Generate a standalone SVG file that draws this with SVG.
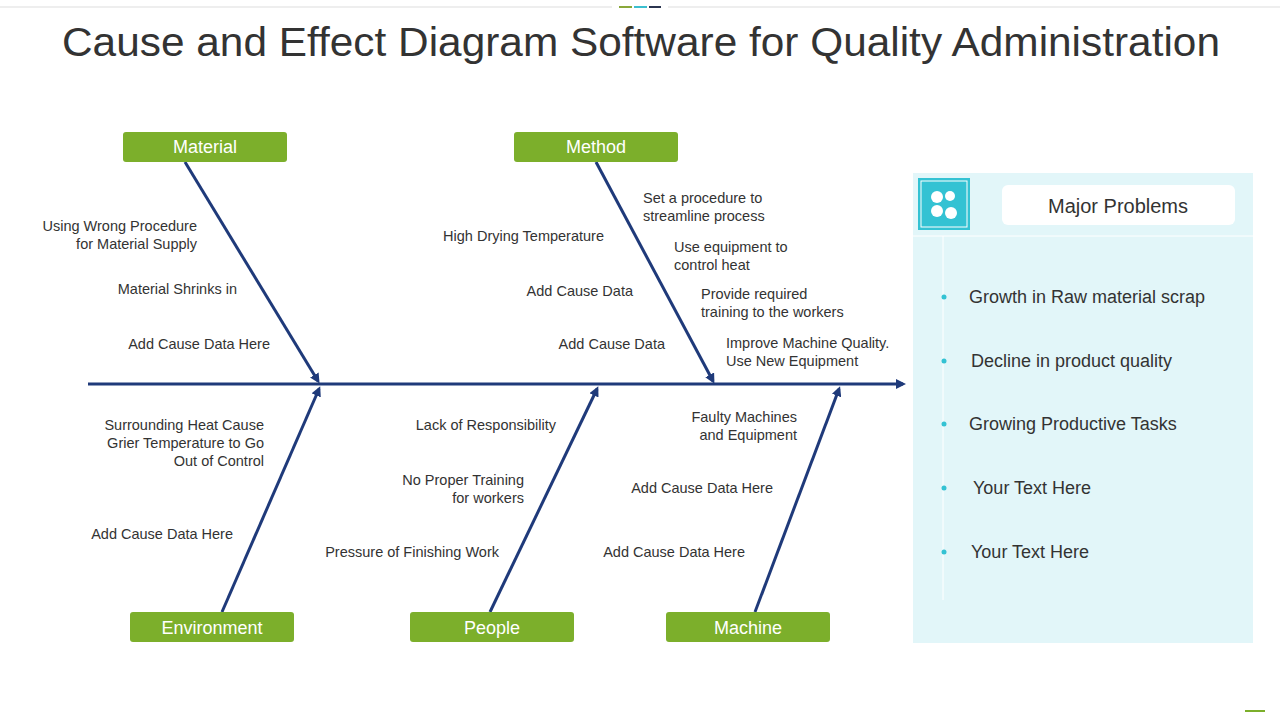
<svg xmlns="http://www.w3.org/2000/svg" width="1280" height="720" viewBox="0 0 1280 720">
<style>
text{font-family:"Liberation Sans",Arial,sans-serif;fill:#333}
.t{font-size:14.5px}
.lb{font-size:18px;fill:#fff}
.p{font-size:18px}
.box{fill:#7caf2b}
.bone{stroke:#1f3a7a;stroke-width:3;fill:none}
</style>
<defs><marker id="ah" markerWidth="10" markerHeight="10" refX="7" refY="5" orient="auto" markerUnits="userSpaceOnUse"><path d="M0,0 L10,5 L0,10 z" fill="#1f3a7a"/></marker></defs>
<rect width="1280" height="720" fill="#fff"/>
<line x1="0" y1="7" x2="1280" y2="7" stroke="#ddd"/>
<rect x="612" y="4" width="56" height="6" fill="#fff"/>
<line x1="619" y1="7" x2="632" y2="7" stroke="#8aa83a" stroke-width="2"/>
<line x1="634" y1="7" x2="647" y2="7" stroke="#3bbfcf" stroke-width="2"/>
<line x1="649" y1="7" x2="661" y2="7" stroke="#2b3550" stroke-width="2"/>
<line x1="1245" y1="711" x2="1265" y2="711" stroke="#7caf2b" stroke-width="2"/>
<text x="62" y="56" textLength="1158" lengthAdjust="spacingAndGlyphs" style="font-size:41px">Cause and Effect Diagram Software for Quality Administration</text>
<g id="connectors">
<line class="bone" x1="88" y1="384" x2="903" y2="384" marker-end="url(#ah)"/>
<line class="bone" x1="185" y1="162" x2="318" y2="381" marker-end="url(#ah)"/>
<line class="bone" x1="596" y1="162" x2="713" y2="381" marker-end="url(#ah)"/>
<line class="bone" x1="222" y1="612" x2="319" y2="389" marker-end="url(#ah)"/>
<line class="bone" x1="490" y1="612" x2="597" y2="389" marker-end="url(#ah)"/>
<line class="bone" x1="755" y1="612" x2="839" y2="389" marker-end="url(#ah)"/>
</g>
<g id="material"><rect class="box" x="123" y="132" width="164" height="30" rx="3"/><text class="lb" x="205" y="153" text-anchor="middle">Material</text></g>
<g id="method"><rect class="box" x="514" y="132" width="164" height="30" rx="3"/><text class="lb" x="596" y="153" text-anchor="middle">Method</text></g>
<g id="environment"><rect class="box" x="130" y="612" width="164" height="30" rx="3"/><text class="lb" x="212" y="634" text-anchor="middle">Environment</text></g>
<g id="people"><rect class="box" x="410" y="612" width="164" height="30" rx="3"/><text class="lb" x="492" y="634" text-anchor="middle">People</text></g>
<g id="machine"><rect class="box" x="666" y="612" width="164" height="30" rx="3"/><text class="lb" x="748" y="634" text-anchor="middle">Machine</text></g>
<g id="causes">
<text class="t" x="197" y="231" text-anchor="end">Using Wrong Procedure</text>
<text class="t" x="197" y="249" text-anchor="end">for Material Supply</text>
<text class="t" x="237" y="294" text-anchor="end">Material Shrinks in</text>
<text class="t" x="270" y="349" text-anchor="end">Add Cause Data Here</text>
<text class="t" x="604" y="241" text-anchor="end">High Drying Temperature</text>
<text class="t" x="633" y="296" text-anchor="end">Add Cause Data</text>
<text class="t" x="665" y="349" text-anchor="end">Add Cause Data</text>
<text class="t" x="643" y="203">Set a procedure to</text>
<text class="t" x="643" y="221">streamline process</text>
<text class="t" x="674" y="252">Use equipment to</text>
<text class="t" x="674" y="270">control heat</text>
<text class="t" x="701" y="299">Provide required</text>
<text class="t" x="701" y="317">training to the workers</text>
<text class="t" x="726" y="348">Improve Machine Quality.</text>
<text class="t" x="726" y="366">Use New Equipment</text>
<text class="t" x="264" y="430" text-anchor="end">Surrounding Heat Cause</text>
<text class="t" x="264" y="448" text-anchor="end">Grier Temperature to Go</text>
<text class="t" x="264" y="466" text-anchor="end">Out of Control</text>
<text class="t" x="233" y="539" text-anchor="end">Add Cause Data Here</text>
<text class="t" x="556" y="430" text-anchor="end">Lack of Responsibility</text>
<text class="t" x="524" y="485" text-anchor="end">No Proper Training</text>
<text class="t" x="524" y="503" text-anchor="end">for workers</text>
<text class="t" x="499" y="557" text-anchor="end">Pressure of Finishing Work</text>
<text class="t" x="797" y="422" text-anchor="end">Faulty Machines</text>
<text class="t" x="797" y="440" text-anchor="end">and Equipment</text>
<text class="t" x="773" y="493" text-anchor="end">Add Cause Data Here</text>
<text class="t" x="745" y="557" text-anchor="end">Add Cause Data Here</text>
</g>
<g id="problems">
<rect x="913" y="173" width="340" height="470" fill="#e2f6f9"/>
<rect x="918" y="178" width="52" height="52" fill="#33c2d3"/>
<rect x="921" y="181" width="46" height="46" fill="none" stroke="#fff" stroke-width="1"/>
<g fill="#fff"><circle cx="937" cy="197" r="6"/><circle cx="950" cy="196" r="5"/><circle cx="937" cy="211" r="6"/><circle cx="951" cy="213" r="6"/></g>
<rect x="1002" y="185" width="233" height="40" rx="6" fill="#fff"/>
<text x="1118" y="213" text-anchor="middle" style="font-size:20px">Major Problems</text>
<line x1="913" y1="236" x2="1253" y2="236" stroke="#fff"/>
<line x1="943" y1="236" x2="943" y2="600" stroke="#fff"/>
<g fill="#33c2d3"><circle cx="944" cy="297" r="2.5"/><circle cx="944" cy="361" r="2.5"/><circle cx="944" cy="424" r="2.5"/><circle cx="944" cy="488" r="2.5"/><circle cx="944" cy="552" r="2.5"/></g>
<text class="p" x="969" y="303">Growth in Raw material scrap</text>
<text class="p" x="971" y="367">Decline in product quality</text>
<text class="p" x="969" y="430">Growing Productive Tasks</text>
<text class="p" x="973" y="494">Your Text Here</text>
<text class="p" x="971" y="558">Your Text Here</text>
</g>
</svg>
